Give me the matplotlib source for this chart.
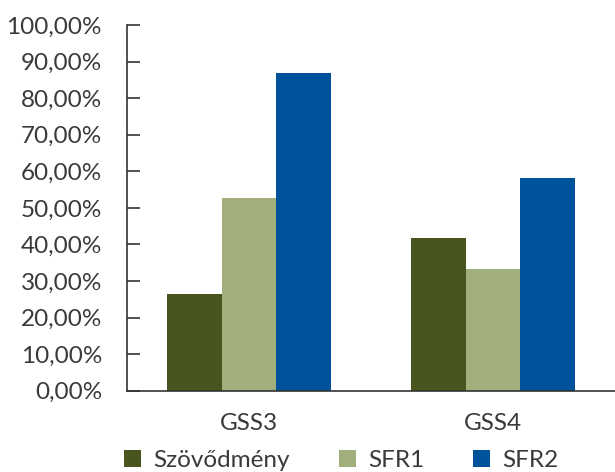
import matplotlib
matplotlib.use("Agg")
import matplotlib.pyplot as plt
import numpy as np
from matplotlib.ticker import FuncFormatter
from matplotlib.patches import Patch

categories = ["GSS3", "GSS4"]
series_names = ["Szövődmény", "SFR1", "SFR2"]
szovodmeny = [26.4, 41.8]
sfr1 = [52.8, 33.3]
sfr2 = [87.0, 58.2]
colors = ["#48551E", "#A0AF7C", "#00529B"]
yticks = list(range(0, 101, 10))

plt.rcParams['font.family'] = ['Lato', 'DejaVu Sans']
text_color = "#3a3a3a"

fig = plt.figure(figsize=(6.15, 4.72), dpi=100)
ax = fig.add_axes([127/615, 1 - 390.7/472, 1 - 127/615, (390.7 - 25)/472])

x = np.arange(len(categories))
w = 0.225
for i, (vals, c) in enumerate(zip([szovodmeny, sfr1, sfr2], colors)):
    ax.bar(x + (i - 1) * w, vals, width=w, color=c, label=series_names[i])

ax.set_xlim(-0.5, 1.5)
ax.set_ylim(0, 100)
ax.set_yticks(yticks)
ax.yaxis.set_major_formatter(FuncFormatter(lambda v, p: f"{v:.2f}%".replace(".", ",")))
ax.set_xticks(x)
ax.set_xticklabels(categories)
ax.tick_params(axis='y', direction='in', length=9, width=1.2, color="#333333",
               labelsize=17.5, labelcolor=text_color, pad=18)
ax.tick_params(axis='x', length=0, labelsize=17.5, labelcolor=text_color, pad=16)
for s in ["top", "right"]:
    ax.spines[s].set_visible(False)
for s in ["left", "bottom"]:
    ax.spines[s].set_color("#333333")
    ax.spines[s].set_linewidth(1.2)

handles = [Patch(facecolor=c, edgecolor='none') for c in colors]
leg = fig.legend(handles, series_names, loc='lower center', bbox_to_anchor=(0.555, -0.045),
                 ncol=3, frameon=False, fontsize=17.5, handlelength=0.7, handleheight=0.7,
                 handletextpad=0.5, columnspacing=2.0)
for t in leg.get_texts():
    t.set_color(text_color)

fig.savefig("out.png", dpi=100)
